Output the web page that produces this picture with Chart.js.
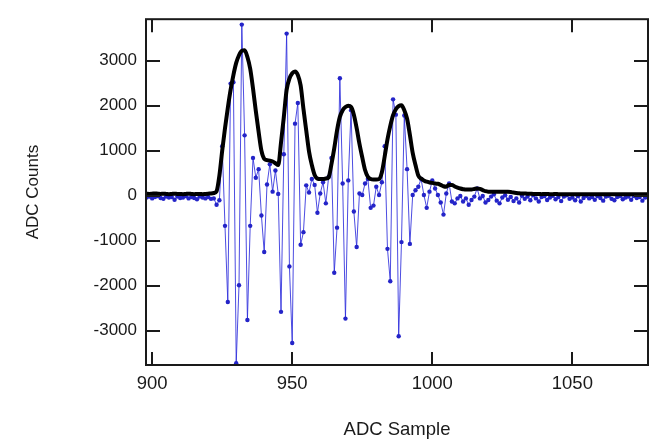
<!DOCTYPE html>
<html lang="en">
<head>
    <meta charset="UTF-8">
    <title>ADC Counts vs ADC Sample</title>
    <script src="https://cdn.jsdelivr.net/npm/chart.js"></script>
    <style>
        body {
            margin: 0;
            background: #fff;
        }
        #wrap {
            width: 652px;
            height: 442px;
        }
    </style>
</head>
<body>

    <div id="wrap"><canvas id="chart"></canvas></div>

    <script>
        // first ADC sample number; one value per sample after that
        const firstSample = 898;

        // raw ADC counts (blue, dots)
        const rawCounts = [
            -40, -20, -60, -30, -10, -50, -70, -20, -40, -30,
            -90, -20, -50, -40, -10, -60, -30, -50, -80, -20,
            -40, -60, -30, -70, -60, -200, -100, 1100, -670, -2360,
            2490, 2520, -3720, -1990, 3800, 1340, -2760, -670, 840, 400,
            590, -440, -1250, 250, 700, 90, 560, 40, -2580, 920,
            3600, -1570, -3270, 1600, 2060, -1090, -810, 230, 70, 370,
            240, -380, 50, 300, -170, 420, 840, -1710, -710, 2610,
            270, -2730, 340, 1900, -350, -1140, 50, 15, 270, 370,
            -270, -220, 200, 15, 300, 1100, -1180, -1900, 2140, 1800,
            -3120, -1030, 1780, 590, -1070, 15, 120, 200, 370, 15,
            -270, 90, 340, 160, 15, -150, -420, 50, 270, -130,
            -170, -60, -5, -130, -60, -200, -95, -20, 160, -60,
            -5, -150, -95, -20, 30, -110, -170, -40, 10, -90,
            -30, -120, -60, -150, 0, -70, -20, -100, 10, -60,
            -130, -30, -10, -95, -40, 0, -80, -30, -120, -20,
            10, -70, -40, -100, -10, -130, -50, 0, -60, -30,
            -90, -10, -50, -110, -20, 0, -70, -100, -30, -10,
            -80, -40, -20, -90, -10, -50, -30, -110, -40, -20
        ];

        // envelope (black, thick)
        const envelope = [
            45, 40, 45, 50, 45, 40, 45, 40, 35, 40,
            45, 40, 40, 35, 40, 45, 40, 35, 40, 40,
            35, 40, 45, 50, 60, 100, 450, 1000, 1500, 1950,
            2350, 2680, 2950, 3120, 3220, 3230, 3080, 2820, 2380, 1880,
            1420, 1000, 820, 790, 780, 760, 720, 680, 1180, 1750,
            2350, 2600, 2720, 2760, 2680, 2450, 1930, 1450, 980, 680,
            460, 380, 370, 370, 380, 410, 700, 1050, 1450, 1750,
            1900, 1970, 2000, 1970, 1800, 1500, 1150, 850, 570, 420,
            370, 360, 360, 370, 520, 870, 1250, 1550, 1790, 1920,
            1990, 2010, 1900, 1710, 1350, 950, 680, 450, 380, 340,
            310, 295, 285, 270, 265, 240, 210, 200, 240, 240,
            205, 180, 160, 145, 135, 135, 140, 150, 160, 150,
            125, 100, 88, 85, 85, 85, 85, 85, 85, 85,
            80, 70, 62, 55, 50, 48, 45, 45, 40, 40,
            40, 35, 40, 40, 35, 35, 40, 35, 35, 30,
            35, 35, 30, 35, 35, 30, 30, 35, 35, 30,
            30, 35, 30, 30, 35, 35, 30, 30, 35, 30,
            30, 35, 30, 30, 35, 30, 30, 35, 30, 30
        ];

        const xTicks = [900, 950, 1000, 1050];
        const yTicks = [-3000, -2000, -1000, 0, 1000, 2000, 3000];

        const toPoints = arr => arr.map((v, i) => ({ x: firstSample + i, y: v }));

        const yFont = { family: "'Liberation Sans', Arial, sans-serif", size: 17 };
        const xFont = { family: "'Liberation Sans', Arial, sans-serif", size: 18.5 };

        // box round the plot with inward ticks on all four sides
        const frameTicks = {
            id: 'frameTicks',
            afterDatasetsDraw(chart) {
                const { ctx, chartArea: a, scales: { x, y } } = chart;
                ctx.save();
                ctx.strokeStyle = '#1a1a1a';
                ctx.lineWidth = 2;
                ctx.strokeRect(a.left, a.top, a.right - a.left, a.bottom - a.top);
                ctx.beginPath();
                x.ticks.forEach(t => {
                    const px = Math.round(x.getPixelForValue(t.value));
                    ctx.moveTo(px, a.bottom); ctx.lineTo(px, a.bottom - 13);
                    ctx.moveTo(px, a.top); ctx.lineTo(px, a.top + 13);
                });
                y.ticks.forEach(t => {
                    const py = Math.round(y.getPixelForValue(t.value));
                    ctx.moveTo(a.left, py); ctx.lineTo(a.left + 14, py);
                    ctx.moveTo(a.right, py); ctx.lineTo(a.right - 14, py);
                });
                ctx.stroke();
                ctx.restore();
            }
        };

        new Chart(document.getElementById('chart'), {
            type: 'line',
            data: {
                datasets: [
                    {
                        label: 'Envelope',
                        data: toPoints(envelope),
                        borderColor: '#000',
                        borderWidth: 4,
                        pointRadius: 0,
                        cubicInterpolationMode: 'monotone',
                        fill: false
                    },
                    {
                        label: 'ADC Counts',
                        data: toPoints(rawCounts),
                        borderColor: 'rgba(45, 45, 220, 0.85)',
                        borderWidth: 1,
                        pointRadius: 2.2,
                        pointBorderWidth: 0,
                        pointBackgroundColor: '#2424c8',
                        tension: 0,
                        fill: false
                    }
                ]
            },
            options: {
                responsive: true,
                maintainAspectRatio: false,
                animation: false,
                layout: { padding: { top: 8, right: 2, left: 0, bottom: 0 } },
                plugins: {
                    legend: { display: false },
                    tooltip: { enabled: false }
                },
                scales: {
                    x: {
                        type: 'linear',
                        min: 897.8,
                        max: 1077,
                        afterBuildTicks: s => { s.ticks = xTicks.map(v => ({ value: v })); },
                        afterFit: s => { s.height = 77; },
                        grid: { display: false, drawTicks: false },
                        border: { display: false },
                        ticks: { color: '#1a1a1a', font: xFont, padding: 8, maxRotation: 0, callback: v => String(v) },
                        title: {
                            display: true,
                            text: 'ADC Sample',
                            color: '#1a1a1a',
                            font: xFont,
                            padding: { top: 0, bottom: 1 }
                        }
                    },
                    y: {
                        min: -3760,
                        max: 3920,
                        afterBuildTicks: s => { s.ticks = yTicks.map(v => ({ value: v })); },
                        afterFit: s => { s.width = 146; },
                        grid: { display: false, drawTicks: false },
                        border: { display: false },
                        ticks: { color: '#1a1a1a', font: yFont, padding: 9, callback: v => String(v) },
                        title: {
                            display: true,
                            text: 'ADC Counts',
                            color: '#1a1a1a',
                            font: yFont,
                            padding: { top: 23, bottom: 0 }
                        }
                    }
                }
            },
            plugins: [frameTicks]
        });
    </script>
</body>
</html>
